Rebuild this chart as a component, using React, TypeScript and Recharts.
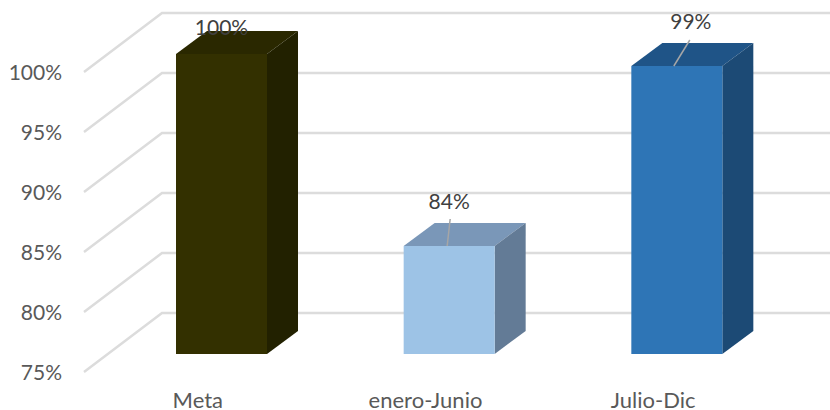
import { BarChart, Bar, XAxis, YAxis, CartesianGrid, LabelList } from 'recharts'

const CATEGORIES = ['Meta', 'enero-Junio', 'Julio-Dic']
const VALUES = [100, 84, 99]
const Y_TICKS = [75, 80, 85, 90, 95, 100]

const data = CATEGORIES.map((name, i) => ({ name, value: VALUES[i] }))

// front, top, side of each box
const BAR_COLORS = [
  ['#333000', '#2a2800', '#222100'],
  ['#9dc3e6', '#7a97b8', '#637b96'],
  ['#2e75b6', '#1f5487', '#1c4a75'],
]

// the boxes stand partway back on the floor, not on the axis plane
const FLOOR_DX = 24
const FLOOR_DY = -18
const BAR_DEPTH_X = 31
const BAR_DEPTH_Y = -23
const WALL_DX = 78
const WALL_DY = -59

// labels were dragged by hand in the original: [dx, dy, leader?]
const LABEL_POS = [
  { dx: 0, dy: -26, leader: null },
  { dx: 0, dy: -44, leader: [-2, 0, 1, -27] },
  { dx: 14, dy: -44, leader: [-3, 0, 13, -26] },
]

function Box3D(props: any) {
  const { x, y, width, height, index } = props
  const [front, top, side] = BAR_COLORS[index]
  const l = x + FLOOR_DX
  const r = l + width
  const t = y + FLOOR_DY
  const b = t + height
  return (
    <g>
      <path d={`M${l},${t} L${l + BAR_DEPTH_X},${t + BAR_DEPTH_Y} L${r + BAR_DEPTH_X},${t + BAR_DEPTH_Y} L${r},${t} Z`} fill={top} />
      <path d={`M${r},${t} L${r + BAR_DEPTH_X},${t + BAR_DEPTH_Y} L${r + BAR_DEPTH_X},${b + BAR_DEPTH_Y} L${r},${b} Z`} fill={side} />
      <rect x={l} y={t} width={width} height={height} fill={front} />
    </g>
  )
}

function WallLine(props: any) {
  const { x1, y1, x2 } = props
  return (
    <path
      d={`M${x1},${y1} L${x1 + WALL_DX},${y1 + WALL_DY} L${x2 + 63},${y1 + WALL_DY}`}
      fill="none"
      stroke="#dcdcdc"
      strokeWidth={2.5}
    />
  )
}

function BarLabel(props: any) {
  const { x, y, width, value, index } = props
  const pos = LABEL_POS[index]
  const cx = x + FLOOR_DX + width / 2
  const top = y + FLOOR_DY
  return (
    <g>
      {pos.leader && (
        <line
          x1={cx + pos.leader[0]}
          y1={top + pos.leader[1]}
          x2={cx + pos.leader[2]}
          y2={top + pos.leader[3]}
          stroke="#a6a6a6"
          strokeWidth={1.5}
        />
      )}
      <text x={cx + pos.dx} y={top + pos.dy} dy="0.35em" textAnchor="middle" fontSize={21} fill="#404040">
        {`${value}%`}
      </text>
    </g>
  )
}

export default function App() {
  return (
    <div style={{ position: 'absolute', left: 0, top: 0, fontFamily: 'Lato' }}>
      <BarChart
        width={830}
        height={410}
        data={data}
        margin={{ top: 72, right: 63, bottom: 8, left: 0 }}
        barSize={91}
      >
        <CartesianGrid vertical={false} horizontal={(p: any) => <WallLine key={p.key ?? p.y1} {...p} />} />
        <XAxis
          dataKey="name"
          axisLine={false}
          tickLine={false}
          tickSize={0}
          tickMargin={20}
          tick={{ fontSize: 22, fill: '#595959' }}
        />
        <YAxis
          width={84}
          domain={[75, 100]}
          ticks={Y_TICKS}
          axisLine={false}
          tickLine={false}
          tickSize={0}
          tickMargin={22}
          tickFormatter={(v) => `${v}%`}
          tick={{ fontSize: 21, fill: '#595959', dy: 1 }}
        />
        <Bar dataKey="value" shape={Box3D} isAnimationActive={false}>
          <LabelList dataKey="value" content={BarLabel} />
        </Bar>
      </BarChart>
    </div>
  )
}
